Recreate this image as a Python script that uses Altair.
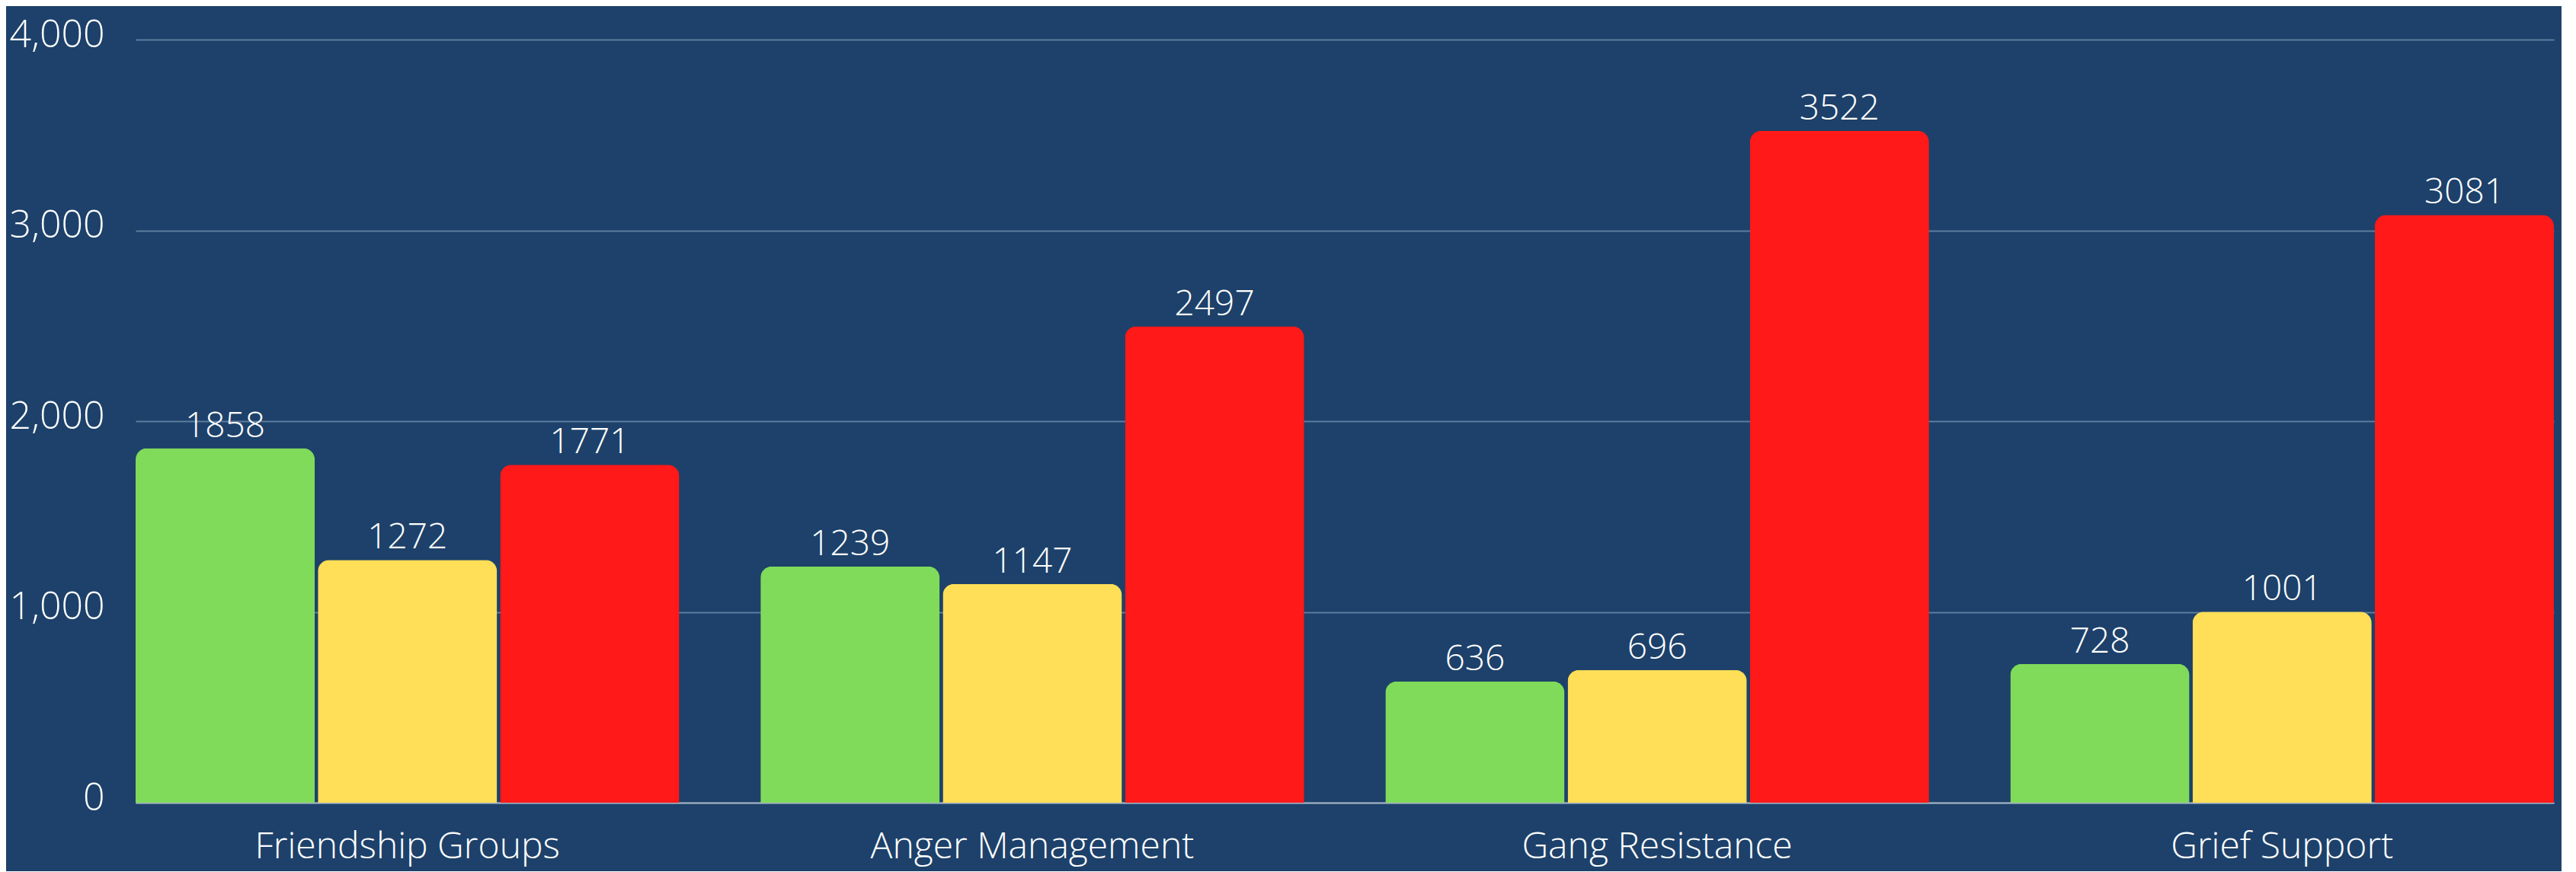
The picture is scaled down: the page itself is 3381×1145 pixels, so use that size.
import altair as alt
import pandas as pd

categories = ["Friendship Groups", "Anger Management", "Gang Resistance", "Grief Support"]
series = ["Series 1", "Series 2", "Series 3"]
green_vals = [1858, 1239, 636, 728]
yellow_vals = [1272, 1147, 696, 1001]
red_vals = [1771, 2497, 3522, 3081]
y_ticks = [0, 1000, 2000, 3000, 4000]
colors = ["#80DB5B", "#FFDF57", "#FF1919"]

rows = []
for s, vals in zip(series, [green_vals, yellow_vals, red_vals]):
    for c, v in zip(categories, vals):
        rows.append({"category": c, "series": s, "value": v})
df = pd.DataFrame(rows)

FONT = "Open Sans"
BG = "#1D416A"

base = alt.Chart(df).encode(
    x=alt.X(
        "category:N",
        sort=categories,
        title=None,
        scale=alt.Scale(paddingInner=0.13, paddingOuter=0),
        axis=alt.Axis(
            labelAngle=0,
            labelFont=FONT,
            labelFontWeight=300,
            labelFontSize=48,
            labelColor="white",
            labelBaseline="alphabetic",
            labelPadding=72,
            labelLimit=0,
            ticks=False,
            tickSize=0,
            domainColor="#A4B1C1",
            domainWidth=2,
            grid=False,
        ),
    ),
    xOffset=alt.XOffset(
        "series:N",
        sort=series,
        scale=alt.Scale(paddingInner=0.017, paddingOuter=0),
    ),
    y=alt.Y(
        "value:Q",
        title=None,
        scale=alt.Scale(domain=[0, 4000], nice=False),
        axis=alt.Axis(
            values=y_ticks,
            format=",d",
            labelFont=FONT,
            labelFontWeight=300,
            labelFontSize=50,
            labelColor="white",
            labelPadding=41,
            labelOffset=-6,
            labelLimit=0,
            ticks=False,
            tickSize=0,
            domain=False,
            grid=True,
            gridColor="#5D7D9E",
            gridWidth=2,
        ),
    ),
)

bars = base.mark_bar(cornerRadiusTopLeft=15, cornerRadiusTopRight=15).encode(
    color=alt.Color(
        "series:N",
        scale=alt.Scale(domain=series, range=colors),
        legend=None,
    )
)

labels = base.mark_text(
    dy=-15,
    baseline="alphabetic",
    font=FONT,
    fontWeight=300,
    fontSize=46,
    color="white",
).encode(text=alt.Text("value:Q", format="d"))

chart = (
    alt.layer(bars, labels)
    .properties(
        width=3174,
        height=1002,
        background=BG,
        padding={"left": 170, "top": 44, "right": 10, "bottom": 90},
        autosize=alt.AutoSizeParams(type="none"),
    )
    .configure_view(stroke=None)
)

chart.save("out.html", embed_options={"renderer": "svg", "actions": False})
